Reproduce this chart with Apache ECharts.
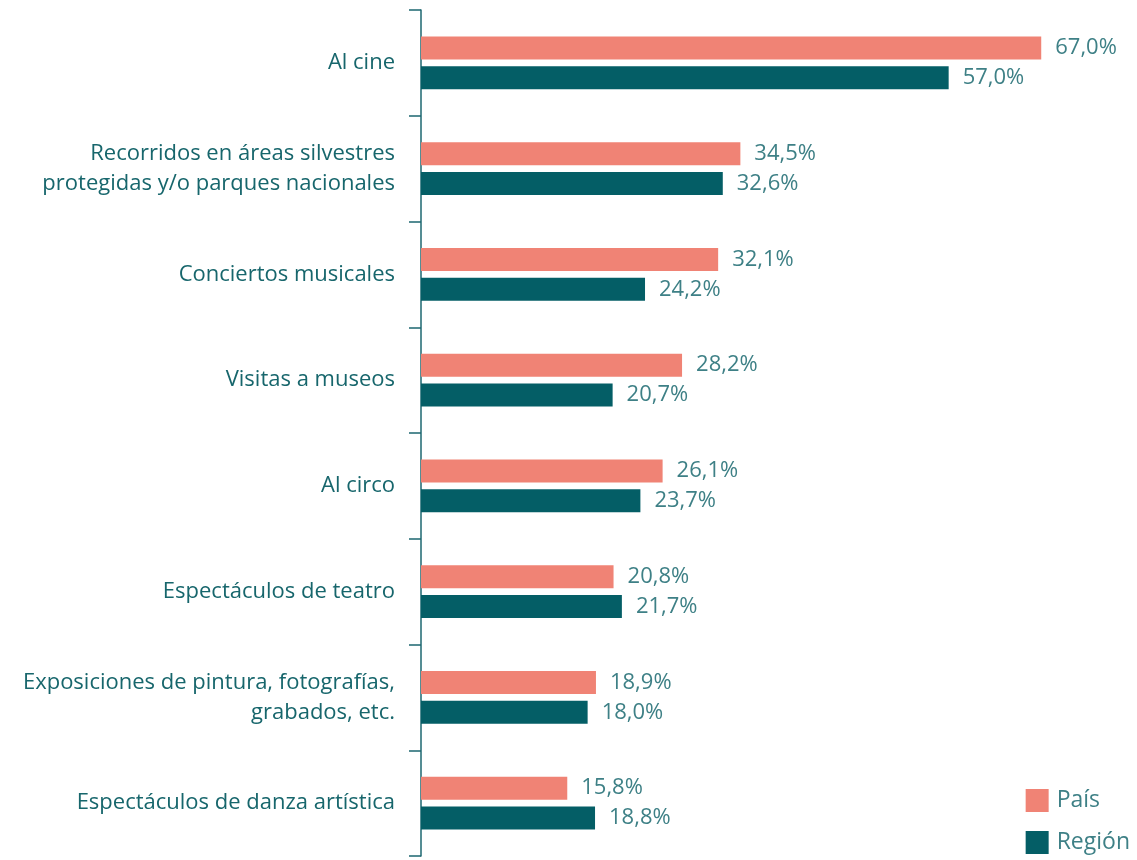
<!DOCTYPE html>
<html>
<head>
<meta charset="utf-8">
<script src="https://cdn.jsdelivr.net/npm/echarts@6/dist/echarts.min.js"></script>
<style>
  html, body { margin: 0; padding: 0; background: #fff; }
  #chart { width: 1137px; height: 860px; }
</style>
</head>
<body>
<div id="chart"></div>
<script>
// categorias (de arriba hacia abajo)
var categorias = [
  'Al cine',
  'Recorridos en áreas silvestres\nprotegidas y/o parques nacionales',
  'Conciertos musicales',
  'Visitas a museos',
  'Al circo',
  'Espectáculos de teatro',
  'Exposiciones de pintura, fotografías,\ngrabados, etc.',
  'Espectáculos de danza artística'
];
var pais = [67.0, 34.5, 32.1, 28.2, 26.1, 20.8, 18.9, 15.8];
var region = [57.0, 32.6, 24.2, 20.7, 23.7, 21.7, 18.0, 18.8];

var colorPais = '#F08375';
var colorRegion = '#045E66';
var fuente = '"Open Sans", "Noto Sans", sans-serif';

var chart = echarts.init(document.getElementById('chart'));

// etiqueta de valor con coma decimal
function etiqueta(p) {
  return p.value.toFixed(1).replace('.', ',') + '%';
}

chart.setOption({
  animation: false,
  textStyle: { fontFamily: fuente },
  grid: { left: 421, right: 68, top: 10, bottom: 4, containLabel: false },
  legend: {
    orient: 'vertical',
    right: 2,
    bottom: 1,
    itemWidth: 23,
    itemHeight: 23,
    itemGap: 19,
    icon: 'rect',
    data: ['País', 'Región'],
    textStyle: { fontSize: 23, color: '#3E8086', fontFamily: fuente, padding: [0, 0, 0, 3] }
  },
  xAxis: {
    type: 'value',
    min: 0,
    max: 70,
    show: false
  },
  yAxis: {
    type: 'category',
    inverse: true,
    data: categorias,
    axisLine: { show: true, lineStyle: { color: '#1C6770', width: 1.5 } },
    axisTick: { show: true, length: 12, lineStyle: { color: '#1C6770', width: 1.5 } },
    axisLabel: {
      margin: 26,
      fontSize: 22,
      lineHeight: 30,
      color: '#17666C',
      fontFamily: fuente,
      align: 'right',
      padding: [7, 0, 0, 0]
    }
  },
  series: [
    {
      name: 'País',
      type: 'bar',
      data: pais,
      barWidth: 23,
      barGap: '30%',
      itemStyle: { color: colorPais },
      label: {
        show: true,
        position: 'right',
        distance: 14,
        fontSize: 22,
        color: '#3E8086',
        fontFamily: fuente,
        formatter: etiqueta
      }
    },
    {
      name: 'Región',
      type: 'bar',
      data: region,
      barWidth: 23,
      itemStyle: { color: colorRegion },
      label: {
        show: true,
        position: 'right',
        distance: 14,
        fontSize: 22,
        color: '#3E8086',
        fontFamily: fuente,
        formatter: etiqueta
      }
    }
  ]
});
</script>
</body>
</html>
